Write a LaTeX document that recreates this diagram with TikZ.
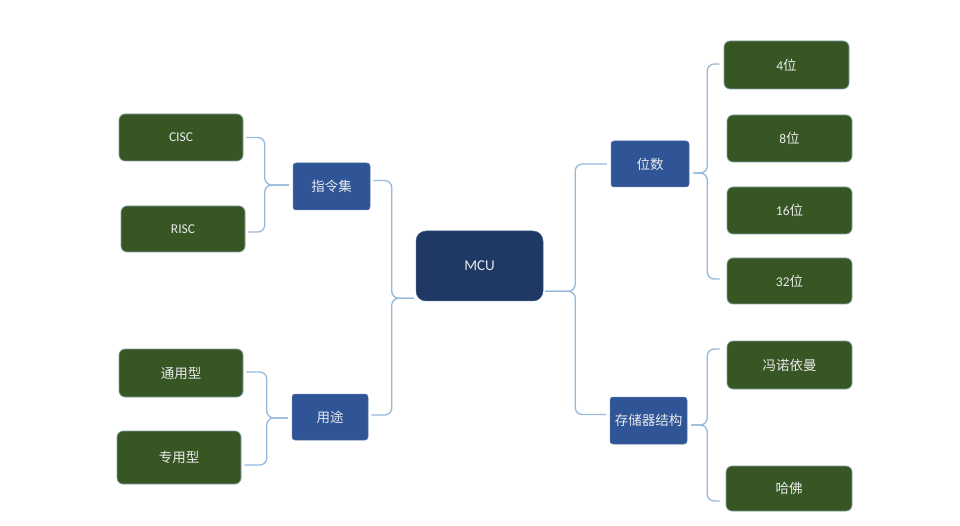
\documentclass[tikz,border=0pt]{standalone}
\usepackage{fontspec}
\setmainfont{Carlito}
\newfontfamily\cjk{Noto Sans CJK SC}
\usetikzlibrary{calc}
\definecolor{leaf}{RGB}{56,86,35}
\definecolor{leafedge}{RGB}{130,160,165}
\definecolor{mid}{RGB}{47,85,151}
\definecolor{root}{RGB}{31,56,100}
\definecolor{edge}{RGB}{150,185,220}
\definecolor{txt}{RGB}{232,234,236}
\begin{document}
\begin{tikzpicture}[x=1pt,y=-1pt,
  leafbox/.style={fill=leaf, draw=leafedge, line width=0.7pt, rounded corners=6pt,
    minimum width=124pt, minimum height=47pt, inner sep=0pt, text=txt,
    font=\fontsize{13.5}{15}\selectfont},
  midbox/.style={fill=mid, draw=mid!80!white, line width=0.5pt, rounded corners=3pt,
    minimum width=77pt, minimum height=47pt, inner sep=0pt, text=txt,
    font=\fontsize{13.5}{15}\selectfont},
  rootbox/.style={fill=root, draw=root!80!white, line width=0.5pt, rounded corners=10pt,
    minimum width=127pt, minimum height=70pt, inner sep=0pt, text=txt,
    font=\fontsize{15}{17}\selectfont},
  conn/.style={draw=edge, line width=1.3pt, rounded corners=7pt}
]
\useasboundingbox[fill=white] (0,0) rectangle (960,526);

% root
\node[rootbox] (mcu) at (479.5,266) {MCU};

% left middle
\node[midbox] (zl) at (331.5,186.5) {\cjk 指令集};
\node[midbox, minimum width=76pt, minimum height=46pt] (yt) at (330,417) {\cjk 用途};

% right middle
\node[midbox, minimum width=78pt, minimum height=46pt] (ws) at (650,164) {\cjk 位数};
\node[midbox] (cc) at (648.5,420.5) {\cjk 存储器结构};

% left leaves
\node[leafbox] (cisc) at (181,137.5) {CISC};
\node[leafbox, minimum height=46pt] (risc) at (183,229) {RISC};
\node[leafbox, minimum height=48pt] (ty) at (181,373) {\cjk 通用型};
\node[leafbox, minimum height=53pt] (zy) at (179,457.5) {\cjk 专用型};

% right leaves
\node[leafbox, minimum width=125pt, minimum height=48pt] (b4) at (786.5,65) {4{\cjk 位}};
\node[leafbox, minimum width=125pt] (b8) at (789.5,138.5) {8{\cjk 位}};
\node[leafbox, minimum width=125pt] (b16) at (789.5,210.5) {16{\cjk 位}};
\node[leafbox, minimum width=125pt, minimum height=46pt] (b32) at (789.5,281) {32{\cjk 位}};
\node[leafbox, minimum width=125pt, minimum height=48pt] (fn) at (789.5,365) {\cjk 冯诺依曼};
\node[leafbox, minimum width=126pt, minimum height=45pt] (hf) at (789,488.5) {\cjk 哈佛};

% connectors: instruction set
\draw[conn] ($(cisc.east)+(3,0)$) -| ($(zl.west)+(-28,-1.5)$) -- ($(zl.west)+(-4,-1.5)$);
\draw[conn] ($(risc.east)+(3,3)$) -| ($(zl.west)+(-28,-1.5)$) -- ($(zl.west)+(-4,-1.5)$);

% connectors: usage
\draw[conn] ($(ty.east)+(3,-1)$) -| ($(yt.west)+(-25,1)$) -- ($(yt.west)+(-4,1)$);
\draw[conn] ($(zy.east)+(3,7.5)$) -| ($(yt.west)+(-25,1)$) -- ($(yt.west)+(-4,1)$);

% connectors: to MCU (left)
\draw[conn] ($(zl.east)+(3,-6)$) -| ($(mcu.south west)+(-24,-3)$) -- ($(mcu.south west)+(-2,-3)$);
\draw[conn] ($(yt.east)+(3,-2)$) -| ($(mcu.south west)+(-24,-3)$) -- ($(mcu.south west)+(-2,-3)$);

% connectors: from MCU (right)
\draw[conn] ($(ws.west)+(-4,0)$) -| ($(mcu.south east)+(32,-10)$) -- ($(mcu.south east)+(2,-10)$);
\draw[conn] ($(cc.west)+(-4,-6)$) -| ($(mcu.south east)+(32,-10)$) -- ($(mcu.south east)+(2,-10)$);

% connectors: bit width
\draw[conn] ($(b4.west)+(-4,-1)$) -| ($(ws.east)+(18,9)$) -- ($(ws.east)+(4,9)$);
\draw[conn] ($(b32.west)+(-7,-2)$) -| ($(ws.east)+(18,9)$) -- ($(ws.east)+(4,9)$);

% connectors: memory structure
\draw[conn] ($(fn.west)+(-7,-16)$) -| ($(cc.east)+(20,4.5)$) -- ($(cc.east)+(4,4.5)$);
\draw[conn] ($(hf.west)+(-6,12.5)$) -| ($(cc.east)+(20,4.5)$) -- ($(cc.east)+(4,4.5)$);
\end{tikzpicture}
\end{document}
